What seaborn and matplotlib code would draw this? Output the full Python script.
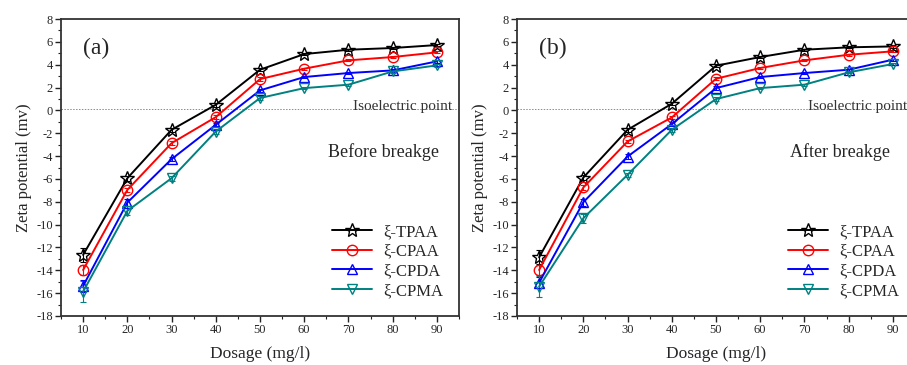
import numpy as np
import pandas as pd
import matplotlib
matplotlib.use("Agg")
import matplotlib.pyplot as plt
import seaborn as sns
from matplotlib.ticker import MultipleLocator

# ---- data ----
dosage = [10, 20, 30, 40, 50, 60, 70, 80, 90]
series_names = ["ξ-TPAA", "ξ-CPAA", "ξ-CPDA", "ξ-CPMA"]

before_tpaa = [-12.65, -5.94, -1.70, 0.49, 3.56, 4.93, 5.31, 5.46, 5.72]
before_cpaa = [-13.97, -6.96, -2.87, -0.59, 2.74, 3.65, 4.38, 4.67, 5.08]
before_cpda = [-15.37, -8.07, -4.27, -1.26, 1.75, 2.92, 3.27, 3.50, 4.29]
before_cpma = [-15.87, -8.80, -5.94, -1.85, 1.08, 1.95, 2.25, 3.41, 3.94]

after_tpaa = [-12.86, -5.88, -1.70, 0.58, 3.91, 4.67, 5.31, 5.52, 5.60]
after_cpaa = [-13.97, -6.75, -2.72, -0.62, 2.77, 3.71, 4.38, 4.87, 5.17]
after_cpda = [-15.08, -8.04, -4.04, -1.20, 1.95, 2.92, 3.27, 3.56, 4.44]
after_cpma = [-15.43, -9.44, -5.64, -1.70, 0.99, 1.95, 2.25, 3.33, 4.06]

err_tpaa = [0.6, 0.2, 0.15, 0.15, 0.15, 0.1, 0.1, 0.1, 0.1]
err_cpaa = [0.4, 0.2, 0.15, 0.15, 0.15, 0.1, 0.1, 0.1, 0.1]
err_cpda = [0.5, 0.3, 0.2, 0.15, 0.15, 0.1, 0.1, 0.1, 0.1]
err_cpma = [0.9, 0.4, 0.2, 0.2, 0.15, 0.1, 0.1, 0.1, 0.1]

isoelectric = 0.15
panel_labels = ["(a)", "(b)"]
panel_titles = ["Before breakge", "After breakge"]

colors = ["#000000", "#FF0000", "#0000FF", "#008080"]
markers = ["*", "o", "^", "v"]
msizes = [10, 7.5, 7.5, 7.5]

sns.set_theme(style="white")
plt.rcParams["font.family"] = ["Liberation Serif", "DejaVu Serif"]
plt.rcParams["axes.unicode_minus"] = False

fig = plt.figure(figsize=(9.07, 3.65), dpi=100)
ax_a = fig.add_axes([61/907, 1-316/365, 398/907, 297/365])
ax_b = fig.add_axes([517/907, 1-316/365, 398/907, 297/365])

panels = [
    (ax_a, [before_tpaa, before_cpaa, before_cpda, before_cpma]),
    (ax_b, [after_tpaa, after_cpaa, after_cpda, after_cpma]),
]
errs = [err_tpaa, err_cpaa, err_cpda, err_cpma]
iso_x = [0.983, (1075 / 3 + 450 - 517) / 398]
iso_ha = ["right", "left"]
title_x = [0.67, 0.685]

for idx, (ax, vals) in enumerate(panels):
    rows = []
    for name, v in zip(series_names, vals):
        for d, y in zip(dosage, v):
            rows.append({"Dosage": d, "Zeta": y, "Series": name})
    df = pd.DataFrame(rows)
    ax.axhline(isoelectric, color="#F06060", lw=0.7, ls=(0, (1.5, 1.5)), zorder=0)
    for i, name in enumerate(series_names):
        sub = df[df["Series"] == name]
        ax.errorbar(sub["Dosage"], sub["Zeta"], yerr=errs[i], fmt="none",
                    ecolor=colors[i], elinewidth=0.8, capsize=2.5, capthick=0.8, zorder=2)
        sns.lineplot(data=sub, x="Dosage", y="Zeta", ax=ax, color=colors[i],
                     marker=markers[i], markersize=msizes[i], markerfacecolor="none",
                     markeredgecolor=colors[i], markeredgewidth=1.0, lw=1.4,
                     label=name, zorder=3, legend=False)
    ax.set_xlim(5, 95)
    ax.set_ylim(-18, 8)
    ax.xaxis.set_major_locator(MultipleLocator(10))
    ax.xaxis.set_minor_locator(MultipleLocator(5))
    ax.yaxis.set_major_locator(MultipleLocator(2))
    ax.yaxis.set_minor_locator(MultipleLocator(1))
    ax.tick_params(axis="both", which="major", direction="out", length=4, width=1,
                   labelsize=9, color="#222222", bottom=True, left=True, pad=2)
    ax.tick_params(axis="both", which="minor", direction="out", length=2.5, width=0.8,
                   color="#222222", bottom=True, left=True)
    for s in ax.spines.values():
        s.set_linewidth(1.3)
        s.set_color("#333333")
    ax.set_xlabel("Dosage (mg/l)", fontsize=12.5, labelpad=7)
    ax.set_ylabel("Zeta potential (mv)", fontsize=12, labelpad=3)
    ax.text(0.055, 0.9, panel_labels[idx], transform=ax.transAxes, fontsize=17,
            ha="left", va="center")
    ax.text(iso_x[idx], 0.705, "Isoelectric point", transform=ax.transAxes,
            fontsize=11, ha=iso_ha[idx], va="center", color="#333333")
    ax.text(title_x[idx], 0.553, panel_titles[idx], transform=ax.transAxes,
            fontsize=13, ha="left", va="center")
    ax.legend(loc="upper left", bbox_to_anchor=(0.68, 0.31), frameon=False,
              fontsize=12, borderpad=0, handlelength=2.4, handletextpad=0.7,
              labelspacing=0.22, borderaxespad=0)

fig.savefig("out.png", dpi=100, facecolor="white")
